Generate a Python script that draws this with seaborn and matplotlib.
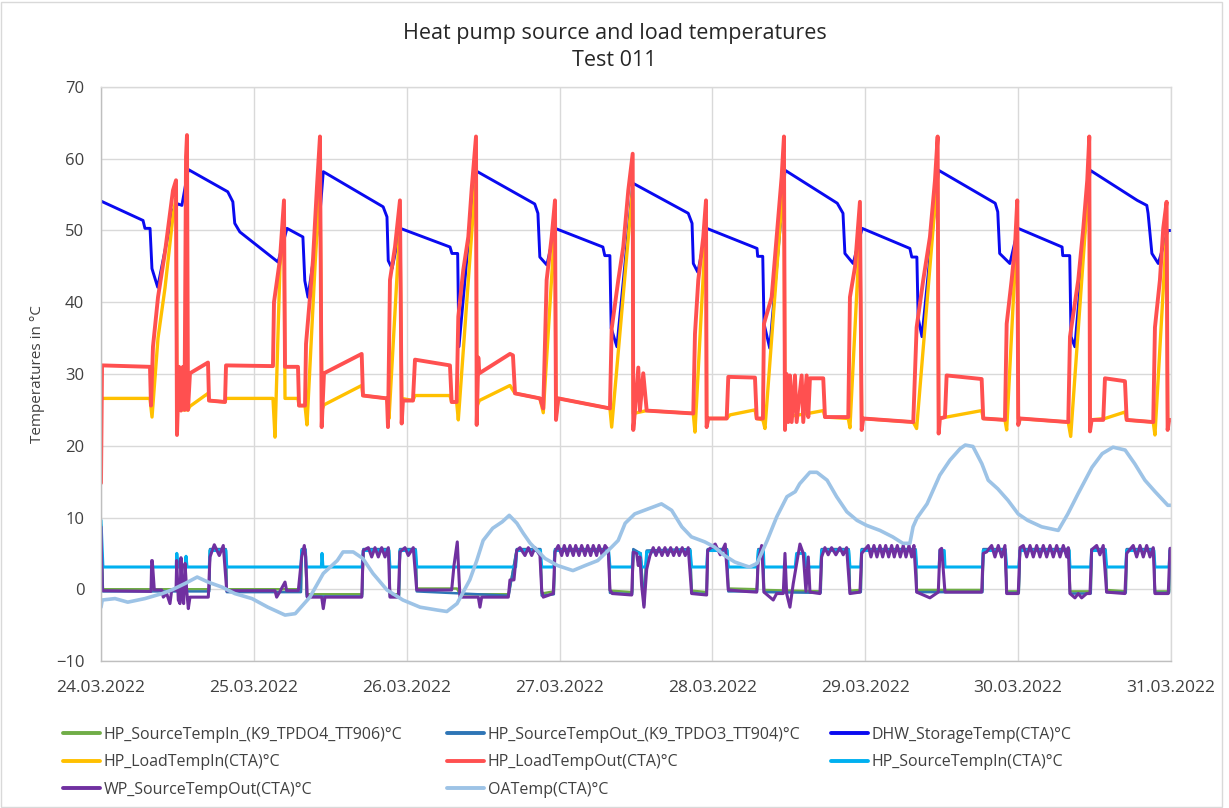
import numpy as np
import pandas as pd
import matplotlib
matplotlib.use("Agg")
import matplotlib.pyplot as plt
import matplotlib.dates as mdates
from matplotlib.patches import Rectangle
import seaborn as sns

# ---------------- data (hours since 24.03.2022 00:00, values in °C) ----------------
START = pd.Timestamp("2022-03-24 00:00")
DAYS = 7
y_ticks = [-10, 0, 10, 20, 30, 40, 50, 60, 70]

labels = [
    "HP_SourceTempIn_(K9_TPDO4_TT906)°C",
    "HP_SourceTempOut_(K9_TPDO3_TT904)°C",
    "DHW_StorageTemp(CTA)°C",
    "HP_LoadTempIn(CTA)°C",
    "HP_LoadTempOut(CTA)°C",
    "HP_SourceTempIn(CTA)°C",
    "WP_SourceTempOut(CTA)°C",
    "OATemp(CTA)°C",
]
colors = ["#70AD47", "#2E75B6", "#0A0AF0", "#FFC000", "#FF5050", "#00B0F0", "#7030A0", "#9DC3E6"]

oat_hours = [0.0, 0.2, 2.2, 4.2, 6.9, 9.6, 11.1, 13.2, 15.1, 16.8, 19.0, 21.0, 23.7, 26.2, 28.9,
             30.5, 32.8, 34.9, 37.1, 38.0, 39.6, 41.1, 42.7, 44.9, 47.4, 50.1, 52.8, 54.3, 55.9, 57.9,
             59.0, 60.0, 61.5, 63.0, 64.1, 65.3, 66.3, 67.4, 69.7, 71.7, 74.1, 76.0, 78.0, 80.2, 81.2,
             82.3, 83.8, 85.9, 88.0, 89.6, 91.2, 92.7, 94.8, 96.3, 97.9, 99.5, 101.1, 101.8, 103.0, 104.6,
             106.1, 107.7, 109.0, 109.7, 111.3, 112.4, 114.0, 115.5, 117.1, 118.7, 120.2, 122.3, 124.3,
             125.9, 127.0, 127.5, 128.1, 129.7, 131.7, 133.3, 134.9, 135.7, 136.9, 138.3, 139.3, 140.8,
             142.4, 144.0, 145.5, 147.7, 150.3, 151.8, 153.4, 155.6, 157.2, 158.9, 160.8, 162.3, 163.9,
             165.5, 167.5, 168.0]
oat_vals = [-2.5, -1.5, -1.3, -1.8, -1.3, -0.6, -0.1, 0.8, 1.7, 1.0, 0.3, -0.6, -1.3, -2.5, -3.6,
            -3.4, -1.1, 2.2, 4.0, 5.2, 5.2, 4.3, 2.2, -0.1, -1.5, -2.5, -2.9, -3.1, -2.0, 1.3,
            4.0, 6.8, 8.5, 9.4, 10.3, 9.2, 7.8, 6.4, 4.3, 3.3, 2.6, 3.3, 4.0, 5.9, 6.8,
            9.2, 10.5, 11.2, 11.9, 11.0, 8.7, 7.3, 6.6, 5.9, 4.7, 3.8, 3.3, 3.1, 3.6, 6.8,
            10.1, 12.9, 13.6, 14.7, 16.3, 16.3, 15.2, 12.9, 10.8, 9.6, 8.9, 8.2, 7.3,
            6.4, 6.4, 8.7, 9.9, 11.9, 15.9, 18.0, 19.6, 20.1, 19.9, 17.5, 15.2, 14.0,
            12.4, 10.5, 9.6, 8.7, 8.2, 10.5, 13.3, 17.0, 18.9, 19.8, 19.4, 17.5, 15.2,
            13.6, 11.7, 11.7]

dhw_hours = [0.0, 6.6, 6.9, 7.7, 8.0, 8.9, 11.3, 12.1, 12.7, 13.7, 19.9, 20.7, 21.0, 21.8, 27.8,
             29.2, 31.7, 32.0, 32.5, 34.4, 34.9, 44.3, 44.9, 45.1, 45.7, 47.0, 54.8, 55.1, 56.0, 56.2,
             58.7, 68.1, 68.6, 68.9, 70.0, 71.3, 78.8, 79.1, 79.9, 80.1, 81.0, 83.5, 92.2, 92.8, 93.0,
             93.7, 95.1, 103.0, 103.1, 103.9, 104.1, 105.0, 107.4, 115.6, 116.5, 116.8, 118.1, 119.5,
             127.0, 127.3, 128.1, 128.3, 128.9, 131.5, 140.4, 140.8, 141.1, 142.7, 144.0, 150.9, 151.0,
             152.1, 152.3, 152.9, 155.3, 162.7, 164.2, 164.4, 165.0, 166.0, 167.5, 168.0]
dhw_vals = [54.1, 51.4, 50.3, 50.3, 44.7, 42.1, 52.8, 53.7, 53.5, 58.5, 55.4, 54.0, 51.0, 49.8, 45.6,
            50.3, 49.1, 43.0, 40.7, 52.6, 58.2, 53.3, 51.9, 45.8, 44.7, 50.3, 47.7, 46.8, 46.8, 33.8,
            58.4, 53.7, 52.4, 46.3, 45.2, 50.3, 47.7, 46.5, 46.5, 36.4, 33.8, 56.6, 52.4, 51.0, 45.4,
            44.2, 50.3, 47.5, 46.4, 46.4, 37.0, 33.6, 58.4, 53.8, 52.4, 46.8, 45.4, 50.3,
            47.5, 46.3, 46.3, 37.8, 35.2, 58.4, 53.8, 52.6, 46.8, 45.4, 50.3, 47.7, 46.5,
            46.5, 35.2, 33.8, 58.4, 54.2, 53.5, 52.4, 46.8, 45.4, 50.0, 50.0]

load_out_hours = [0.0, 0.16, 7.69, 7.85, 8.16, 8.95, 10.05, 11.30, 11.78, 11.93,
                  12.25, 12.56, 12.87, 13.11, 13.35, 13.50, 13.66, 13.97, 16.80, 16.96,
                  19.47, 19.63, 27.00, 27.16, 28.10, 28.73, 28.89, 30.93, 31.09, 32.03,
                  32.19, 32.81, 33.28, 33.91, 34.38, 34.65, 35.01, 40.93, 41.13, 44.90,
                  45.06, 45.37, 46.16, 46.94, 47.21, 47.41, 48.98, 49.30, 54.79, 55.06,
                  55.84, 56.10, 56.88, 57.67, 58.20, 58.88, 58.99, 59.24, 59.40, 64.21,
                  64.68, 65.00, 68.92, 69.44, 69.97, 70.76, 71.28, 71.44, 71.80, 79.91,
                  80.18, 81.22, 82.00, 82.79, 83.48, 83.57, 83.84, 84.36, 84.62, 85.14,
                  85.68, 92.99, 93.26, 93.78, 94.56, 94.99, 95.09, 95.35, 98.24, 98.49,
                  102.68, 102.95, 103.93, 104.09, 105.30, 106.08, 106.87, 107.23, 107.39, 107.65,
                  107.91, 108.17, 108.44, 108.96, 109.22, 110.01, 110.26, 110.79, 111.05, 111.31,
                  113.40, 113.67, 117.33, 117.59, 118.38, 119.16, 119.43, 119.68, 127.53, 128.06,
                  129.10, 130.15, 130.94, 131.36, 131.52, 131.72, 132.51, 132.77, 138.27, 138.52,
                  141.93, 142.20, 142.98, 143.50, 143.86, 144.02, 144.29, 151.87, 152.14, 153.44,
                  154.23, 154.85, 155.17, 155.28, 155.54, 157.36, 157.63, 160.77, 161.04, 165.21,
                  165.48, 166.26, 166.78, 167.31, 167.47, 167.72, 168.0]
load_out_vals = [14.8, 31.2, 31.0, 25.6, 33.8, 40.7, 47.0, 55.6, 57.0, 21.5,
                 31.0, 24.9, 31.0, 25.0, 60.3, 63.3, 25.0, 30.1, 31.6, 26.3,
                 26.1, 31.2, 31.1, 40.0, 46.0, 54.2, 31.0, 31.0, 25.6, 25.6,
                 34.2, 40.7, 45.9, 56.1, 63.1, 22.6, 30.1, 32.8, 27.0, 26.6,
                 22.6, 43.1, 47.7, 54.2, 23.1, 26.3, 26.3, 32.0, 31.2, 26.1,
                 26.1, 38.0, 44.5, 49.1, 55.8, 63.1, 22.9, 32.3, 30.1, 32.8,
                 32.6, 27.3, 26.6, 25.2, 43.1, 49.1, 54.2, 23.6, 26.6, 25.2,
                 36.3, 43.1, 47.7, 55.6, 60.7, 22.2, 24.9, 30.9, 24.9, 30.1,
                 24.9, 24.5, 35.6, 43.1, 49.1, 54.2, 22.6, 23.8, 23.8, 29.6,
                 29.5, 23.8, 23.8, 37.0, 40.7, 49.1, 57.5, 63.1, 22.2, 30.0,
                 23.3, 29.8, 23.3, 29.8, 23.3, 29.8, 23.3, 29.8, 24.0, 29.4,
                 29.4, 24.0, 24.0, 40.7, 44.9, 54.0, 22.2, 23.8, 23.3, 36.5,
                 43.1, 49.1, 57.0, 63.1, 21.7, 23.8, 24.0, 29.8, 29.3, 23.8,
                 23.6, 37.0, 43.1, 47.7, 54.2, 22.9, 23.8, 23.3, 35.2, 43.1,
                 50.3, 57.0, 63.1, 22.0, 23.6, 23.6, 29.4, 29.0, 23.6, 23.3,
                 36.5, 43.1, 50.3, 54.0, 22.2, 23.6, 23.6]

load_in_hours = [0.0, 7.69, 8.01, 8.95, 10.05, 11.30, 11.78, 11.93, 13.66, 13.97,
                 16.80, 16.96, 19.47, 19.63, 27.00, 27.32, 28.10, 28.73, 28.89, 30.93,
                 31.09, 32.03, 32.34, 33.60, 34.38, 34.70, 35.01, 40.93, 41.13, 44.90,
                 45.22, 46.94, 47.21, 48.98, 49.30, 54.79, 55.06, 55.84, 56.10, 58.88,
                 59.03, 59.40, 64.21, 65.00, 68.92, 69.44, 71.28, 71.44, 71.80, 79.91,
                 80.18, 83.48, 83.57, 85.68, 92.99, 93.26, 94.99, 95.09, 98.24, 98.76,
                 102.68, 102.95, 103.93, 104.25, 107.23, 107.39, 111.00, 113.40, 113.67, 117.33,
                 117.59, 119.16, 119.43, 127.53, 128.06, 131.36, 131.52, 132.77, 138.27, 138.52,
                 141.93, 142.20, 143.86, 144.02, 151.87, 152.25, 155.17, 155.28, 157.63, 160.77,
                 161.04, 165.21, 165.48, 167.31, 167.47, 168.0]
load_in_vals = [26.6, 26.6, 24.0, 35.0, 42.0, 52.0, 54.5, 25.0, 25.0, 25.5,
                27.3, 26.3, 26.1, 26.6, 26.6, 21.2, 45.0, 52.0, 26.6, 26.6,
                25.6, 25.6, 22.9, 45.0, 57.0, 25.0, 25.7, 28.4, 27.0, 26.6,
                23.8, 51.0, 26.6, 26.3, 27.0, 27.0, 26.1, 26.1, 23.6, 58.0,
                25.5, 26.3, 28.4, 27.3, 26.6, 24.6, 51.0, 24.0, 26.6, 25.2,
                22.6, 56.0, 24.5, 24.9, 24.5, 21.9, 51.0, 23.8, 23.8, 24.3,
                25.0, 23.8, 23.6, 22.4, 58.0, 24.0, 24.5, 24.9, 24.0, 23.8,
                22.5, 50.0, 23.8, 23.3, 22.4, 58.0, 23.8, 24.0, 24.9, 23.8,
                23.6, 22.2, 51.0, 23.8, 23.3, 21.3, 58.0, 23.6, 23.8, 24.7,
                23.6, 23.3, 21.5, 50.0, 23.6, 23.6]

# (hours, °C) pairs
wp_source_out = [
    (0.00, 8.7), (0.20, -0.2), (7.85, -0.3), (7.96, 4.0), (8.05, 4.0), (8.37, -0.1), (9.53, -0.1),
    (9.78, -1.1), (10.31, -0.6), (10.83, -2.0), (11.10, -0.1), (11.78, -0.1), (11.89, 4.0),
    (12.14, -1.5), (12.40, -2.0), (12.56, 4.4), (12.76, -1.1), (12.98, -2.0), (13.19, 3.6),
    (13.45, -0.1), (13.71, -2.7), (13.97, -1.1), (16.85, -1.1), (17.11, 4.5), (17.79, 6.2),
    (18.57, 4.7), (19.20, 6.1), (19.74, -0.2), (27.32, -0.2), (27.58, -1.1), (28.10, -0.3),
    (28.89, 1.0), (29.15, -0.2), (30.98, -0.2), (31.51, 4.5), (31.92, 6.1), (32.14, 4.5),
    (32.39, -1.1), (34.65, -1.1), (34.90, -2.7), (35.17, -1.1), (40.93, -1.1), (41.18, 5.4),
    (41.97, 5.8), (42.50, 4.5), (43.02, 5.8), (43.54, 4.5), (44.07, 5.8), (44.59, 4.5),
    (45.11, 5.8), (45.37, -1.1), (46.68, -1.1), (46.94, 5.2), (47.73, 5.8), (48.25, 4.7),
    (49.03, 5.8), (49.57, -0.1), (55.06, -0.1), (55.42, 3.3), (55.94, 6.6), (56.36, -1.1),
    (59.24, -1.1), (59.50, -2.5), (59.77, -1.1), (63.95, -1.1), (64.21, 1.3), (64.84, 1.3),
    (65.27, 5.4), (65.78, 5.8), (66.57, 4.7), (67.09, 5.8), (67.62, 4.7), (68.14, 5.8),
    (68.92, 4.7), (69.19, -0.1), (69.44, -1.1), (71.01, -0.6), (71.28, 5.2), (71.80, 6.1),
    (72.33, 4.7), (72.74, 6.1), (73.21, 4.7), (73.63, 6.1), (74.15, 4.7), (74.53, 6.1),
    (75.05, 4.7), (75.47, 6.1), (75.99, 4.7), (76.41, 6.1), (76.88, 4.7), (77.29, 6.1),
    (77.82, 4.7), (78.19, 6.1), (78.71, 4.7), (79.13, 6.1), (79.65, 5.5), (79.91, -0.1),
    (80.28, -0.6), (83.32, -0.8), (83.57, 5.2), (84.10, 5.0), (84.36, 3.3), (84.62, 4.5),
    (84.89, 0.5), (85.25, -2.5), (85.68, 2.8), (86.19, 4.7), (86.71, 5.8), (87.14, 4.7),
    (87.61, 5.8), (88.08, 4.7), (88.55, 5.8), (88.97, 4.7), (89.44, 5.8), (89.91, 4.7),
    (90.38, 5.8), (90.79, 4.7), (91.26, 5.8), (91.73, 4.7), (92.20, 5.8), (92.73, -0.6),
    (95.09, -0.8), (95.25, 5.4), (96.44, 6.3), (97.23, 4.8), (98.01, 6.3), (98.49, -0.1),
    (101.11, -0.3), (102.95, -0.4), (103.20, 4.0), (103.73, 6.1), (104.09, -0.4), (105.55, -1.5),
    (106.08, -0.6), (107.12, -0.6), (107.39, 5.0), (107.65, -0.6), (108.17, -2.5), (108.69, 0.8),
    (109.22, 3.6), (109.74, 6.3), (110.26, 5.0), (110.68, -0.3), (111.05, 4.5), (111.31, -0.4),
    (112.88, -0.6), (113.14, 4.5), (113.66, 5.8), (114.18, 4.8), (114.71, 5.8), (115.38, 4.8),
    (116.01, 5.8), (116.54, 4.8), (117.07, 5.8), (117.59, -0.6), (119.16, -0.4), (119.43, 5.0),
    (120.47, 6.1), (120.89, 4.5), (121.36, 6.1), (121.83, 4.5), (122.30, 6.1), (122.73, 4.5),
    (123.20, 6.1), (123.67, 4.5), (124.14, 6.1), (124.55, 4.5), (125.02, 6.1), (125.49, 4.5),
    (125.96, 6.1), (126.39, 4.5), (126.86, 6.1), (127.28, 4.5), (127.64, 6.1), (128.07, -0.4),
    (130.15, -1.2), (131.46, -0.4), (131.72, 5.5), (131.99, 5.7), (132.51, -0.4), (138.27, -0.4),
    (138.52, 5.0), (139.05, 5.2), (139.84, 6.1), (140.36, 4.5), (140.88, 6.1), (141.41, 4.5),
    (141.93, 6.1), (142.20, -0.6), (144.02, -0.6), (144.29, 5.8), (144.81, 6.1), (145.34, 4.5),
    (145.86, 6.1), (146.38, 4.5), (146.91, 6.1), (147.43, 4.5), (147.95, 6.1), (148.48, 4.5),
    (149.00, 6.1), (149.52, 4.5), (150.05, 6.1), (150.57, 4.5), (151.09, 6.1), (151.62, 4.5),
    (151.87, 5.8), (152.14, -0.6), (152.92, -1.2), (153.44, -0.6), (153.97, -1.2), (154.76, -0.6),
    (155.28, -0.6), (155.54, 5.5), (156.33, 6.1), (156.84, 4.8), (157.36, 6.1), (157.89, -0.4),
    (160.77, -0.6), (161.04, 5.0), (162.07, 6.1), (162.61, 4.5), (163.13, 6.1), (163.65, 4.5),
    (164.18, 6.1), (164.70, 4.5), (165.21, 5.8), (165.48, -0.6), (167.57, -0.6), (167.84, 5.7),
    (168.0, 5.7),
]

hp_source_in_cta = [
    (0.0, 9.6), (0.3, 3.1), (11.8, 3.1), (11.9, 5.0), (12.1, 3.1), (13.2, 3.1), (13.35, 4.6),
    (13.5, 3.1), (17.0, 3.1), (17.11, 5.4), (19.6, 5.4), (19.74, 3.1), (31.4, 3.1), (31.51, 5.4),
    (32.1, 5.4), (32.2, 3.1), (34.6, 3.1), (34.7, 5.0), (34.85, 3.1), (41.0, 3.1), (41.18, 5.4),
    (45.2, 5.4), (45.37, 3.1), (46.8, 3.1), (46.94, 5.4), (49.4, 5.4), (49.57, 3.1), (65.1, 3.1),
    (65.27, 5.4), (69.0, 5.4), (69.19, 3.1), (71.1, 3.1), (71.28, 5.4), (79.7, 5.4), (79.91, 3.1),
    (83.4, 3.1), (83.57, 5.2), (84.7, 5.0), (84.89, 3.1), (85.5, 3.1), (85.68, 5.2), (92.5, 5.4),
    (92.73, 3.1), (95.1, 3.1), (95.25, 5.4), (98.3, 5.4), (98.49, 3.1), (103.0, 3.1), (103.2, 5.4),
    (104.0, 5.4), (104.09, 3.1), (109.0, 3.1), (109.22, 5.0), (110.5, 5.0), (110.68, 3.1),
    (113.0, 3.1), (113.14, 5.4), (117.4, 5.4), (117.59, 3.1), (119.3, 3.1), (119.43, 5.4),
    (127.9, 5.4), (128.07, 3.1), (131.6, 3.1), (131.72, 5.4), (132.4, 5.4), (132.51, 3.1),
    (138.4, 3.1), (138.52, 5.4), (142.0, 5.4), (142.2, 3.1), (144.1, 3.1), (144.29, 5.4),
    (152.0, 5.4), (152.14, 3.1), (155.4, 3.1), (155.54, 5.4), (157.7, 5.4), (157.89, 3.1),
    (160.9, 3.1), (161.04, 5.4), (165.3, 5.4), (165.48, 3.1), (167.7, 3.1), (167.84, 5.4),
    (168.0, 5.4),
]

hp_source_in_k9 = [
    (0.0, 9.0), (0.3, 0.0), (17.0, 0.0), (17.11, 5.4), (19.6, 5.4), (19.74, 0.0), (31.4, 0.0),
    (31.51, 5.4), (32.1, 5.4), (32.3, -0.7), (41.0, -0.7), (41.18, 5.4), (45.2, 5.4), (45.37, -0.7),
    (46.8, -0.7), (46.94, 5.4), (49.4, 5.4), (49.57, 0.1), (55.9, 0.1), (56.36, -0.7), (64.0, -0.7),
    (65.27, 5.4), (69.0, 5.4), (69.19, -0.6), (71.1, -0.3), (71.28, 5.4), (79.7, 5.4), (79.91, -0.2),
    (83.4, -0.4), (83.57, 5.2), (84.7, 5.0), (85.25, -2.2), (85.68, 5.2), (92.5, 5.4), (92.73, -0.2),
    (95.1, -0.4), (95.25, 5.4), (98.3, 5.4), (98.49, 0.1), (103.0, 0.0), (103.2, 5.4), (104.0, 5.4),
    (104.09, -0.1), (113.0, -0.3), (113.14, 5.4), (117.4, 5.4), (117.59, -0.2), (119.3, -0.1),
    (119.43, 5.4), (127.9, 5.4), (128.07, -0.1), (138.4, -0.1), (138.52, 5.4), (142.0, 5.4),
    (142.2, -0.3), (144.1, -0.3), (144.29, 5.4), (152.0, 5.4), (152.14, -0.3), (155.4, -0.3),
    (155.54, 5.4), (157.7, 5.4), (157.89, -0.1), (160.9, -0.3), (161.04, 5.4), (165.3, 5.4),
    (165.48, -0.3), (167.7, -0.3), (167.84, 5.4), (168.0, 5.4),
]

hp_source_out_k9 = [
    (0.0, 8.5), (0.3, -0.3), (17.0, -0.3), (17.11, 5.6), (19.6, 5.6), (19.74, -0.4), (31.4, -0.4),
    (31.51, 5.6), (32.1, 5.6), (32.3, -1.0), (41.0, -1.0), (41.18, 5.6), (45.2, 5.6), (45.37, -1.0),
    (46.8, -1.0), (46.94, 5.6), (49.4, 5.6), (49.57, -0.3), (64.0, -0.9), (65.27, 5.6), (69.0, 5.6),
    (69.19, -0.9), (71.1, -0.7), (71.28, 5.6), (79.7, 5.6), (79.91, -0.5), (83.4, -0.7), (83.57, 5.6),
    (84.7, 5.0), (85.25, -2.3), (85.68, 5.4), (92.5, 5.6), (92.73, -0.5), (95.1, -0.7), (95.25, 5.6),
    (98.3, 5.6), (98.49, -0.3), (103.0, -0.3), (103.2, 5.6), (104.0, 5.6), (104.09, -0.4),
    (113.0, -0.5), (113.14, 5.6), (117.4, 5.6), (117.59, -0.5), (119.3, -0.4), (119.43, 5.6),
    (127.9, 5.6), (128.07, -0.4), (138.4, -0.4), (138.52, 5.6), (142.0, 5.6), (142.2, -0.5),
    (144.1, -0.5), (144.29, 5.6), (152.0, 5.6), (152.14, -0.6), (155.4, -0.6), (155.54, 5.6),
    (157.7, 5.6), (157.89, -0.4), (160.9, -0.5), (161.04, 5.6), (165.3, 5.6), (165.48, -0.5),
    (167.7, -0.5), (167.84, 5.6), (168.0, 5.6),
]

# ---------------- assemble ----------------
def split(pairs):
    return [p[0] for p in pairs], [p[1] for p in pairs]

series = [
    (split(hp_source_in_k9), 1.8),
    (split(hp_source_out_k9), 1.8),
    ((dhw_hours, dhw_vals), 2.1),
    ((load_in_hours, load_in_vals), 2.4),
    ((load_out_hours, load_out_vals), 2.8),
    (split(hp_source_in_cta), 2.2),
    (split(wp_source_out), 2.2),
    ((oat_hours, oat_vals), 2.6),
]
for (h, v), _ in series:
    assert len(h) == len(v), (len(h), len(v))

sns.set_theme(style="white")
plt.rcParams["font.family"] = ["Open Sans", "DejaVu Sans"]

W, H = 1229, 808
fig = plt.figure(figsize=(W / 100, H / 100), dpi=100)
ax = fig.add_axes([101 / W, 1 - 661 / H, 1070 / W, 574 / H])

for i, ((h, v), lw) in enumerate(series):
    t = START + pd.to_timedelta(np.asarray(h, dtype=float), unit="h")
    sns.lineplot(x=t, y=np.asarray(v, dtype=float), ax=ax, color=colors[i], linewidth=lw,
                 label=labels[i], estimator=None, sort=False)

ax.set_xlim(START, START + pd.Timedelta(days=DAYS))
ax.set_ylim(-10, 70)
ax.set_yticks(y_ticks)
ax.xaxis.set_major_locator(mdates.DayLocator())
ax.xaxis.set_major_formatter(mdates.DateFormatter("%d.%m.%Y"))
ax.grid(True, color="#d9d9d9", linewidth=1.0)
ax.set_axisbelow(True)
ax.tick_params(axis="x", length=0, labelsize=12.5, colors="#404040", pad=14)
ax.tick_params(axis="y", length=0, labelsize=12, colors="#404040", pad=12)
ax.set_xlabel("")
ax.set_ylabel("Temperatures in °C", fontsize=11, color="#404040", va="center")
ax.yaxis.set_label_coords((38 - 101) / 1070, 0.5)
for s in ["left", "bottom"]:
    ax.spines[s].set_color("#bfbfbf")
for s in ["top", "right"]:
    ax.spines[s].set_color("#d9d9d9")
for s in ax.spines.values():
    s.set_linewidth(1.0)

fig.text(0.5, 1 - 34 / H, "Heat pump source and load temperatures", ha="center", va="center",
         fontsize=15.5, color="#262626")
fig.text(0.5, 1 - 61 / H, "Test 011", ha="center", va="center", fontsize=15.5, color="#262626")

handles, labs = ax.get_legend_handles_labels()
ax.get_legend().remove()
columns = [([0, 3, 6], 63), ([1, 4, 7], 447), ([2, 5], 831)]
for idx, x0 in columns:
    leg = fig.legend([handles[i] for i in idx], [labs[i] for i in idx], ncol=1,
                     loc="upper left", bbox_to_anchor=(x0 / W, 1 - 727 / H), frameon=False,
                     fontsize=11.5, handlelength=2.3, handletextpad=0.25,
                     labelspacing=0.72, borderpad=0, borderaxespad=0)
    for txt in leg.get_texts():
        txt.set_color("#404040")
    for lh in leg.get_lines():
        lh.set_linewidth(2.8)

fig.patches.append(Rectangle((1 / W, 1 / H), 1221 / W, 805 / H, transform=fig.transFigure,
                             fill=False, edgecolor="#d9d9d9", linewidth=1.0))

fig.savefig("out.png", dpi=100)
